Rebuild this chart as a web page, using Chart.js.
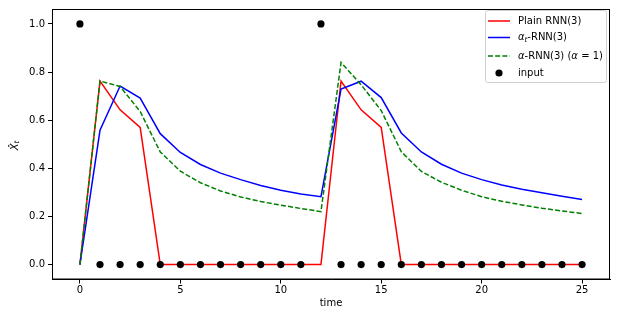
<!DOCTYPE html>
<html>
  <head>
    <meta charset="utf-8" />
    <title>RNN response</title>
    <script src="https://cdn.jsdelivr.net/npm/chart.js"></script>
    <style>
      html,
      body {
        margin: 0;
        padding: 0;
        background: #fff;
      }
      #wrap {
        width: 617px;
        height: 317px;
      }
    </style>
  </head>
  <body>
    <div id="wrap"><canvas id="rnn" width="617" height="317"></canvas></div>

    <script type="text/javascript">
      // values
      const timeSteps = [0, 1, 2, 3, 4, 5, 6, 7, 8, 9, 10, 11, 12, 13, 14, 15, 16, 17, 18, 19, 20, 21, 22, 23, 24, 25];
      const plainRnn = [0, 0.763, 0.643, 0.57, 0, 0, 0, 0, 0, 0, 0, 0, 0, 0.763, 0.643, 0.57, 0, 0, 0, 0, 0, 0, 0, 0, 0, 0];
      const alphaTRnn = [0, 0.558, 0.742, 0.692, 0.544, 0.466, 0.416, 0.38, 0.353, 0.329, 0.309, 0.293, 0.282,
        0.729, 0.762, 0.694, 0.547, 0.468, 0.417, 0.38, 0.353, 0.331, 0.313, 0.298, 0.284, 0.27];
      const alphaRnn = [0, 0.763, 0.74, 0.636, 0.468, 0.388, 0.34, 0.306, 0.281, 0.262, 0.247, 0.233, 0.22,
        0.84, 0.747, 0.64, 0.469, 0.387, 0.342, 0.309, 0.282, 0.263, 0.248, 0.234, 0.223, 0.212];
      const inputSignal = [1, 0, 0, 0, 0, 0, 0, 0, 0, 0, 0, 0, 1, 0, 0, 0, 0, 0, 0, 0, 0, 0, 0, 0, 0, 0];
      const xTicks = [0, 5, 10, 15, 20, 25];
      const yTicks = [0, 0.2, 0.4, 0.6, 0.8, 1.0];

      const FONT = '"DejaVu Sans", sans-serif';

      function pts(ys) {
        return timeSteps.map((t, i) => ({ x: t, y: ys[i] }));
      }

      // draw a run of text pieces (plain / italic / subscript)
      function drawRuns(ctx, runs, x, y, size) {
        ctx.textBaseline = "middle";
        ctx.textAlign = "left";
        for (const r of runs) {
          const s = r.sub ? size * 0.7 : size;
          ctx.font = (r.it ? "italic " : "") + s + "px " + FONT;
          ctx.fillText(r.t, x, r.sub ? y + size * 0.25 : y);
          x += ctx.measureText(r.t).width;
        }
      }

      const legendRows = [
        { color: "#ff0000", dash: [], runs: [{ t: "Plain RNN(3)" }] },
        { color: "#0000ff", dash: [], runs: [{ t: "α", it: 1 }, { t: "t", it: 1, sub: 1 }, { t: "-RNN(3)" }] },
        { color: "#008000", dash: [5, 2.2], runs: [{ t: "α", it: 1 }, { t: "-RNN(3) (" }, { t: "α", it: 1 }, { t: " = 1)" }] },
        { dot: true, runs: [{ t: "input" }] },
      ];

      const framePlugin = {
        id: "frame",
        afterDraw(chart) {
          const ctx = chart.ctx;
          const a = chart.chartArea;
          ctx.save();
          // spines
          ctx.strokeStyle = "#000";
          ctx.lineWidth = 1;
          ctx.strokeRect(a.left + 0.5, a.top + 0.5, a.right - a.left - 1, a.bottom - a.top - 1);

          // y title  X-hat sub t
          ctx.fillStyle = "#000";
          ctx.translate(15, (a.top + a.bottom) / 2);
          ctx.rotate(-Math.PI / 2);
          drawRuns(ctx, [{ t: "X\u0302", it: 1 }, { t: "t", it: 1, sub: 1 }], -6, 0, 10);
          ctx.restore();

          // legend box
          ctx.save();
          const bx = 485.5, by = 10.5, bw = 121, bh = 72;
          ctx.fillStyle = "rgba(255,255,255,0.8)";
          ctx.strokeStyle = "#d0d0d0";
          ctx.lineWidth = 1;
          ctx.beginPath();
          ctx.roundRect(bx, by, bw, bh, 2);
          ctx.fill();
          ctx.stroke();
          const rowY = [21, 37.5, 56, 73];
          legendRows.forEach((row, i) => {
            const y = rowY[i];
            if (row.dot) {
              ctx.fillStyle = "#000";
              ctx.beginPath();
              ctx.arc(499, y, 3.6, 0, Math.PI * 2);
              ctx.fill();
            } else {
              ctx.strokeStyle = row.color;
              ctx.lineWidth = 1.5;
              ctx.setLineDash(row.dash);
              ctx.beginPath();
              ctx.moveTo(488, y);
              ctx.lineTo(510, y);
              ctx.stroke();
              ctx.setLineDash([]);
            }
            ctx.fillStyle = "#000";
            drawRuns(ctx, row.runs, 518, y, 10);
          });
          ctx.restore();
        },
      };

      const lineDs = (label, ys, color, order, dash) => ({
        label: label,
        data: pts(ys),
        borderColor: color,
        backgroundColor: color,
        borderWidth: 1.5,
        borderDash: dash || [],
        pointRadius: 0,
        fill: false,
        tension: 0,
        order: order,
      });

      new Chart(document.getElementById("rnn"), {
        type: "line",
        data: {
          datasets: [
            {
              label: "input",
              data: pts(inputSignal),
              showLine: false,
              pointRadius: 3.6,
              pointBackgroundColor: "#000",
              pointBorderWidth: 0,
              borderColor: "#000",
              order: 0,
            },
            lineDs("α-RNN(3) (α = 1)", alphaRnn, "#008000", 1, [5, 2.2]),
            lineDs("αt-RNN(3)", alphaTRnn, "#0000ff", 2),
            lineDs("Plain RNN(3)", plainRnn, "#ff0000", 3),
          ],
        },
        options: {
          responsive: false,
          animation: false,
          layout: { padding: { top: 7.5, right: 7, left: 0, bottom: 0 } },
          plugins: {
            legend: { display: false },
            tooltip: { enabled: false },
          },
          scales: {
            x: {
              type: "linear",
              min: -1.39,
              max: 26.39,
              afterBuildTicks: (s) => (s.ticks = xTicks.map((v) => ({ value: v }))),
              afterFit: (s) => (s.height = 37.5),
              grid: { drawOnChartArea: false, drawTicks: true, tickLength: 4, color: "#000" },
              border: { color: "#000" },
              ticks: { color: "#000", padding: 1, font: { family: FONT, size: 10 }, maxRotation: 0 },
              title: {
                display: true,
                text: "time",
                color: "#000",
                padding: { top: 0, bottom: 8 },
                font: { family: FONT, size: 10 },
              },
            },
            y: {
              type: "linear",
              min: -0.062,
              max: 1.062,
              afterBuildTicks: (s) => (s.ticks = yTicks.map((v) => ({ value: v }))),
              afterFit: (s) => (s.width = 52),
              grid: { drawOnChartArea: false, drawTicks: true, tickLength: 4, color: "#000" },
              border: { color: "#000" },
              ticks: {
                color: "#000",
                padding: 3,
                font: { family: FONT, size: 10 },
                callback: (v) => v.toFixed(1),
              },
            },
          },
        },
        plugins: [framePlugin],
      });
    </script>
  </body>
</html>
